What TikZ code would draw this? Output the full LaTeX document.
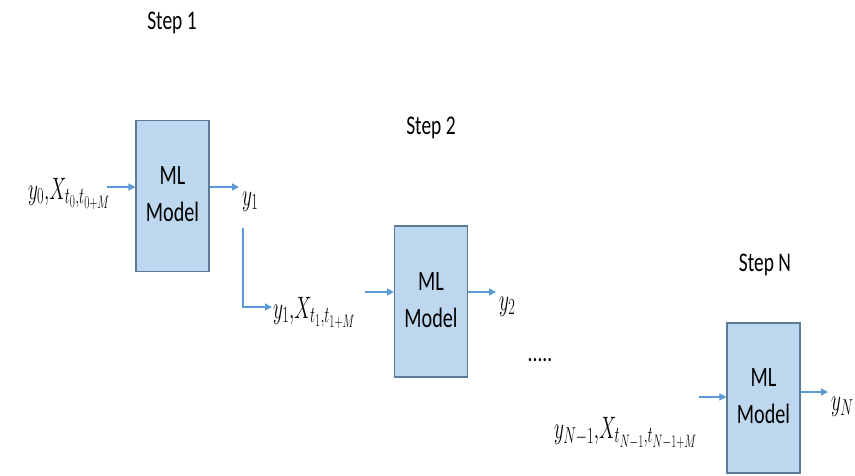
\documentclass[tikz,border=0pt]{standalone}
\usepackage{fix-cm}
\usepackage{fontspec}
\usepackage{graphicx}
\usetikzlibrary{arrows.meta}
\newfontfamily\calib{Carlito}
\DeclareMathSizes{31}{31}{23}{18}
\definecolor{boxfill}{HTML}{BDD7EE}
\definecolor{boxline}{HTML}{5A7A99}
\definecolor{arrc}{HTML}{5B9BD5}
\newcommand{\sq}[1]{\scalebox{0.72}[1]{#1}}
\newcommand{\mq}[1]{\scalebox{0.62}[1]{$#1$}}
\tikzset{
  box/.style={draw=boxline, fill=boxfill, line width=1.1pt, minimum width=73pt,
    minimum height=151pt, inner sep=0pt, font=\calib\fontsize{28}{37}\selectfont},
  arr/.style={draw=arrc, line width=1.3pt, -{Triangle[length=7pt,width=7pt]}},
  lbl/.style={font=\calib\fontsize{27}{30}\selectfont, inner sep=0pt},
  mth/.style={font=\fontsize{31}{36}\selectfont, inner sep=0pt}
}
\newcommand{\mlm}{\raisebox{-9pt}{\sq{\begin{tabular}{@{}c@{}}ML\\Model\end{tabular}}}}
\begin{document}
\begin{tikzpicture}[x=1pt,y=-1pt]
\useasboundingbox[fill=white] (0,0) rectangle (855,475);
% step labels
\node[lbl] (s1) at (172,23) {\sq{Step 1}};
\node[lbl] (s2) at (431,128) {\sq{Step 2}};
\node[lbl] (s3) at (765,265) {\sq{Step N}};
% boxes
\node[box] (b1) at (172.5,196) {\mlm};
\node[box] (b2) at (431,301.5) {\mlm};
\node[box, minimum height=150pt] (b3) at (763.5,398) {\mlm};
% math texts
\node[mth, anchor=base east] (in1) at (110,199) {\mq{y_0{,}X_{t_0{,}t_{0+M}}}};
\node[mth, anchor=base west] (out1) at (242,205) {\mq{y_1}};
\node[mth, anchor=base west] (in2) at (273,318) {\mq{y_1{,}X_{t_1{,}t_{1+M}}}};
\node[mth, anchor=base west] (out2) at (499,310) {\mq{y_2}};
\node[lbl] (dots) at (540,360) {\sq{.....}};
\node[mth, anchor=base east] (in3) at (697,438) {\mq{y_{N-1}{,}X_{t_{N-1}{,}t_{N-1+M}}}};
\node[mth, anchor=base west] (out3) at (831,410) {\mq{y_N}};
% connectors
\coordinate (a1s) at (107,187);
\draw[arr] (a1s) -- (a1s -| b1.west);
\draw[arr] (a1s -| b1.east) -- ([xshift=-3pt]a1s -| out1.west);
\coordinate (v1) at (243,228);
\coordinate (h2) at (243,307);
\draw[arr] (v1) -- (h2) -- ([xshift=-1pt]h2 -| in2.west);
\coordinate (a2s) at (365,292);
\draw[arr] (a2s) -- (a2s -| b2.west);
\draw[arr] (a2s -| b2.east) -- ([xshift=-3pt]a2s -| out2.west);
\coordinate (a3s) at (699,397);
\draw[arr] (a3s) -- (a3s -| b3.west);
\coordinate (a3o) at (800,392);
\draw[arr] (a3o -| b3.east) -- ([xshift=-3pt]a3o -| out3.west);
\end{tikzpicture}
\end{document}
